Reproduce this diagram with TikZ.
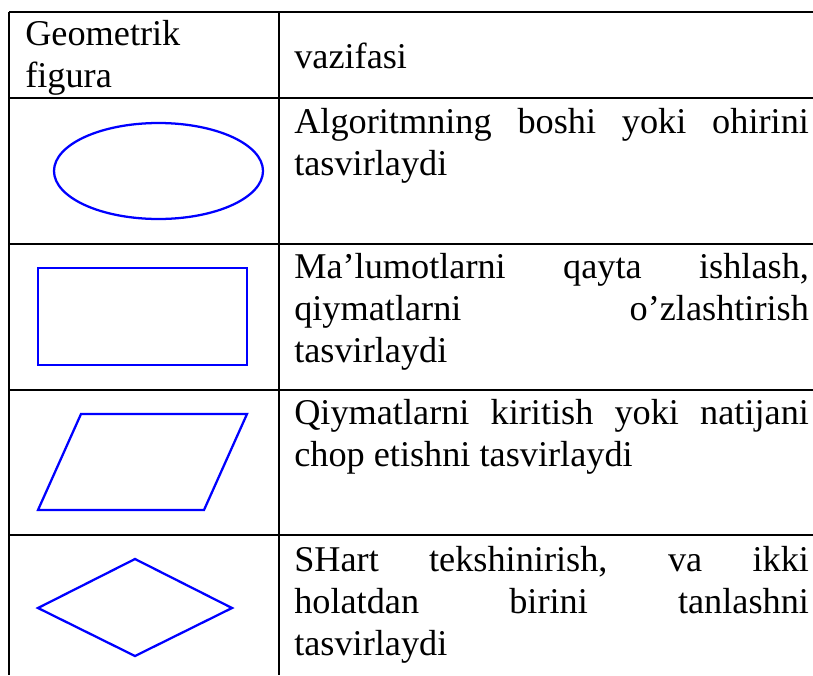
\documentclass[tikz,border=0pt]{standalone}
\usepackage{fontspec}
\setmainfont{Liberation Serif}
\usepackage{tikz}
\tikzset{
    gridline/.style={line width=1.5pt, black},
    figline/.style={line width=1.7pt, blue},
    celltext/.style={anchor=base west, inner sep=0pt, align=left,
        font=\fontsize{27.2}{31.5}\selectfont}
}
\newcommand{\jline}[1]{\makebox[386pt][s]{#1}}

\begin{document}
\begin{tikzpicture}[x=0.75pt, y=-0.75pt]
        \useasboundingbox (0,0) rectangle (813,675);

        % table rules
        \foreach \y in {12,98,244,390,535}
            \draw[gridline] (9,\y) -- (813,\y);
        \draw[gridline] (9,12) -- (9,675);
        \draw[gridline] (279,12) -- (279,675);

        % header (anchored at the last line)
        \node[celltext] (head1) at (25,87) {Geometrik\\figura};
        \node[celltext] (head2) at (294,68) {vazifasi};

        % figures
        \draw[figline] (158.5,171) ellipse [x radius=104.5, y radius=48];
        \draw[figline] (38,268) rectangle (247,365);
        \draw[figline] (81,414) -- (247,414) -- (204,510) -- (38,510) -- cycle;
        \draw[figline] (135,559) -- (232,608) -- (135,656) -- (38,608) -- cycle;

        % descriptions
        \node[celltext] (desc1) at (294,175) {\jline{Algoritmning boshi yoki ohirini}\\tasvirlaydi};
        \node[celltext] (desc2) at (294,362) {\jline{Ma’lumotlarni qayta ishlash,}\\\jline{qiymatlarni o’zlashtirish}\\tasvirlaydi};
        \node[celltext] (desc3) at (294,466) {\jline{Qiymatlarni kiritish yoki natijani}\\chop etishni tasvirlaydi};
        \node[celltext] (desc4) at (294,655) {\jline{SHart tekshinirish, va ikki}\\\jline{holatdan birini tanlashni}\\tasvirlaydi};
    \end{tikzpicture}
\end{document}
